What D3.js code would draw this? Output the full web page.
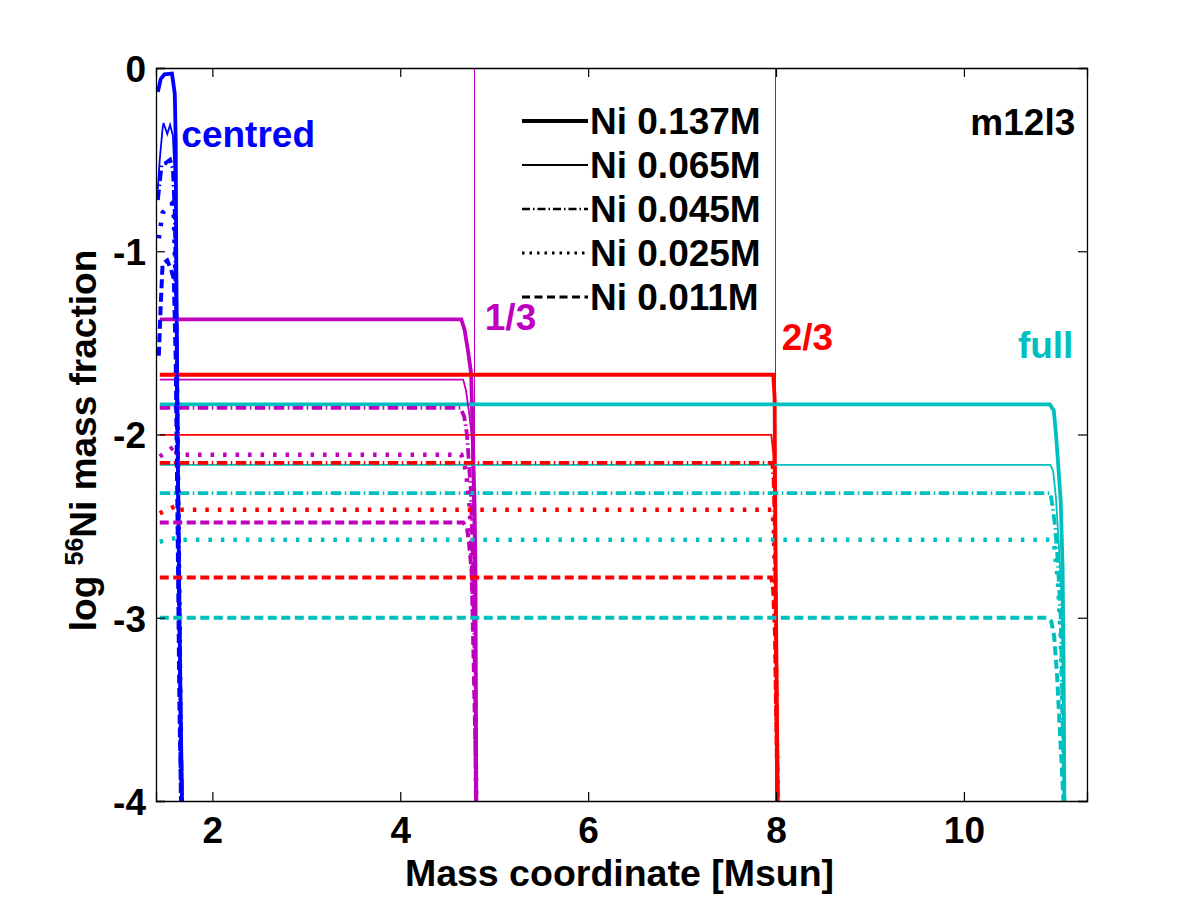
<!DOCTYPE html>
<html>
<head>
<meta charset="utf-8">
<script src="https://cdn.jsdelivr.net/npm/d3@7"></script>
<style>
  body { margin: 0; background: #fff; }
  text { font-family: "Liberation Sans", Arial, Helvetica, sans-serif; font-weight: bold; }
</style>
</head>
<body>
<div id="chart"></div>
<script>
// Chart values
const positions = ["centred", "1/3", "2/3", "full"];
const niMasses = ["Ni 0.137M", "Ni 0.065M", "Ni 0.045M", "Ni 0.025M", "Ni 0.011M"];
const xTicks = [2, 4, 6, 8, 10];
const yTicks = [0, -1, -2, -3, -4];
const boundaryX = [4.78, 7.99];

// [mass coordinate, log X(56Ni)] per Ni mass: 0.137, 0.065, 0.045, 0.025, 0.011
const centredCurves = [
  [[1.42,-0.13],[1.45,-0.06],[1.49,-0.035],[1.57,-0.03],[1.60,-0.14],[1.61,-0.4],[1.615,-1.0],[1.63,-2.0],[1.65,-3.0],[1.665,-3.6],[1.68,-4.1]],
  [[1.42,-0.66],[1.44,-0.5],[1.47,-0.33],[1.48,-0.30],[1.52,-0.36],[1.55,-0.31],[1.58,-0.37],[1.60,-0.6],[1.62,-1.5],[1.64,-2.5],[1.66,-3.5],[1.68,-4.1]],
  [[1.42,-0.72],[1.46,-0.53],[1.50,-0.52],[1.55,-0.50],[1.58,-0.55],[1.60,-0.8],[1.62,-1.5],[1.64,-2.5],[1.66,-3.5],[1.68,-4.1]],
  [[1.43,-0.93],[1.47,-0.79],[1.53,-0.76],[1.57,-0.74],[1.59,-0.81],[1.61,-1.2],[1.63,-2.0],[1.65,-3.0],[1.67,-4.1]],
  [[1.43,-1.57],[1.45,-1.3],[1.47,-1.07],[1.52,-1.05],[1.56,-1.1],[1.59,-1.15],[1.61,-1.6],[1.63,-2.5],[1.65,-3.5],[1.67,-4.1]]
];
const thirdCurves = [
  [[1.44,-1.372],[4.65,-1.372],[4.685,-1.43],[4.72,-1.54],[4.755,-1.67],[4.77,-1.99],[4.79,-2.36],[4.80,-2.7],[4.81,-4.1]],
  [[1.44,-1.70],[4.67,-1.70],[4.70,-1.76],[4.73,-1.87],[4.76,-2.0],[4.78,-2.5],[4.80,-3.3],[4.81,-4.1]],
  [[1.44,-1.855],[4.64,-1.855],[4.68,-1.9],[4.71,-2.0],[4.75,-2.3],[4.78,-2.8],[4.80,-3.5],[4.81,-4.1]],
  [[1.44,-2.12],[1.61,-2.06],[1.62,-2.11],[4.65,-2.11],[4.70,-2.2],[4.74,-2.4],[4.77,-2.8],[4.80,-3.5],[4.81,-4.1]],
  [[1.44,-2.48],[4.67,-2.48],[4.71,-2.51],[4.73,-2.58],[4.76,-2.75],[4.78,-3.2],[4.80,-3.7],[4.81,-4.1]]
];
const twoThirdCurves = [
  [[1.44,-1.674],[7.97,-1.674],[7.985,-1.8],[7.99,-2.3],[8.00,-3.0],[8.02,-4.1]],
  [[1.44,-2.002],[7.95,-2.002],[7.97,-2.1],[7.99,-2.5],[8.00,-3.1],[8.02,-4.1]],
  [[1.44,-2.155],[7.96,-2.155],[7.975,-2.25],[7.99,-2.6],[8.00,-3.2],[8.02,-4.1]],
  [[1.44,-2.43],[1.61,-2.39],[1.62,-2.41],[7.96,-2.41],[7.975,-2.5],[7.99,-2.8],[8.00,-3.3],[8.02,-4.1]],
  [[1.44,-2.78],[7.95,-2.78],[7.97,-2.85],[7.99,-3.1],[8.00,-3.5],[8.02,-4.1]]
];
const fullCurves = [
  [[1.44,-1.836],[10.915,-1.836],[10.957,-1.87],[10.98,-2.0],[11.0,-2.14],[11.03,-2.36],[11.05,-2.72],[11.06,-3.2],[11.07,-4.1]],
  [[1.44,-2.166],[10.92,-2.166],[10.95,-2.2],[10.98,-2.35],[11.01,-2.6],[11.04,-2.9],[11.06,-3.5],[11.07,-4.1]],
  [[1.44,-2.32],[10.92,-2.32],[10.94,-2.38],[10.97,-2.5],[11.0,-2.7],[11.03,-3.0],[11.05,-3.5],[11.07,-4.1]],
  [[1.44,-2.585],[1.61,-2.565],[1.62,-2.574],[10.93,-2.574],[10.96,-2.6],[11.0,-2.8],[11.03,-3.1],[11.05,-3.5],[11.07,-4.1]],
  [[1.44,-3.0],[10.88,-3.0],[10.93,-3.02],[10.96,-3.1],[10.99,-3.3],[11.02,-3.6],[11.05,-3.9],[11.07,-4.1]]
];

(() => {
  const margin = { top: 68, right: 113, bottom: 99, left: 156 };
  const width = 1200 - margin.left - margin.right;
  const height = 900 - margin.top - margin.bottom;

  const colors = ["#0000ff", "#bf00bf", "#ff0000", "#00bfbf"];
  const curvesByPos = [centredCurves, thirdCurves, twoThirdCurves, fullCurves];
  // line style per Ni mass: thick, thin, dash-dot, dotted, dashed
  const styles = [
    { w: 3.8, dash: null },
    { w: 1.8, dash: null },
    { w: 3.8, dash: "10.5,3.5,1.5,3.5" },
    { w: 4.5, dash: "3.5,9" },
    { w: 4, dash: "9,4.5" }
  ];
  const legendStyles = [
    { w: 4, dash: null },
    { w: 1.8, dash: null },
    { w: 2.6, dash: "8,3,1.5,3" },
    { w: 3, dash: "2.5,5" },
    { w: 3, dash: "8,4.5" }
  ];

  const svg = d3.select("#chart").append("svg")
    .attr("width", 1200).attr("height", 900)
    .append("g")
    .attr("transform", `translate(${margin.left},${margin.top})`);

  const x = d3.scaleLinear().domain([1.4, 11.31]).range([0, width]);
  const y = d3.scaleLinear().domain([-4, 0]).range([height, 0]);

  svg.append("clipPath").attr("id", "plot-clip")
    .append("rect").attr("width", width).attr("height", height);

  const plot = svg.append("g").attr("clip-path", "url(#plot-clip)");

  // boundary markers of the 1/3 and 2/3 models
  plot.selectAll(".boundary")
    .data(boundaryX)
    .join("line")
    .attr("class", "boundary")
    .attr("x1", d => Math.round(x(d)) + 0.5).attr("x2", d => Math.round(x(d)) + 0.5)
    .attr("y1", y(0)).attr("y2", y(-4))
    .attr("stroke", (d, i) => colors[i + 1])
    .attr("stroke-width", 1)
    .attr("shape-rendering", "crispEdges");

  const line = d3.line().x(d => x(d[0])).y(d => y(d[1]));

  // drawn Ni mass by Ni mass, each one for all four positions
  niMasses.forEach((m, i) => {
    curvesByPos.forEach((curves, p) => {
      plot.append("path")
        .datum(curves[i])
        .attr("d", line)
        .attr("fill", "none")
        .attr("stroke", colors[p])
        .attr("stroke-width", styles[i].w)
        .attr("stroke-dasharray", styles[i].dash)
        .attr("stroke-linejoin", "miter");
    });
  });

  // axes with inward ticks, mirrored on top and right
  const tickLen = 9;
  svg.append("g").attr("transform", `translate(0,${height})`)
    .call(d3.axisBottom(x).tickValues(xTicks).tickSize(-tickLen).tickPadding(16));
  svg.append("g")
    .call(d3.axisTop(x).tickValues(xTicks).tickSize(-tickLen).tickFormat(""));
  const yAxis = svg.append("g")
    .call(d3.axisLeft(y).tickValues(yTicks).tickSize(-tickLen).tickPadding(10));
  svg.append("g").attr("transform", `translate(${width},0)`)
    .call(d3.axisRight(y).tickValues(yTicks).tickSize(-tickLen).tickFormat(""));

  svg.selectAll(".domain").attr("stroke", "#000").attr("stroke-width", 1.3);
  svg.selectAll(".tick line").attr("stroke", "#000").attr("stroke-width", 1.2);
  svg.selectAll(".tick text")
    .attr("fill", "#000")
    .style("font-size", "37px")
    .style("font-family", "'Liberation Sans', Arial, sans-serif")
    .style("font-weight", "bold");
  yAxis.selectAll(".tick text").attr("dy", "0.36em").text(d => d === 0 ? "0" : "-" + Math.abs(d));

  // axis labels
  svg.append("text")
    .attr("x", width / 2 - 2)
    .attr("y", height + 85)
    .attr("text-anchor", "middle")
    .style("font-size", "37.5px")
    .text("Mass coordinate [Msun]");

  const yLabel = svg.append("text")
    .attr("transform", `translate(-60,${height / 2 + 6}) rotate(-90)`)
    .attr("text-anchor", "middle")
    .style("font-size", "37px");
  yLabel.append("tspan").text("log ");
  yLabel.append("tspan").attr("dy", -13).style("font-size", "25px").text("56");
  yLabel.append("tspan").attr("dy", 13).text("Ni mass fraction");

  // position labels
  const labelSpots = [
    { x: 1.67, y: -0.43, anchor: "start" },
    { x: 4.90, y: -1.43, anchor: "start" },
    { x: 8.06, y: -1.54, anchor: "start" },
    { x: 11.165, y: -1.585, anchor: "end" }
  ];
  positions.forEach((name, p) => {
    svg.append("text")
      .attr("x", x(labelSpots[p].x))
      .attr("y", y(labelSpots[p].y))
      .attr("text-anchor", labelSpots[p].anchor)
      .attr("fill", colors[p])
      .style("font-size", "37px")
      .text(name);
  });

  svg.append("text")
    .attr("x", x(11.185))
    .attr("y", y(-0.365))
    .attr("text-anchor", "end")
    .style("font-size", "37px")
    .text("m12l3");

  // legend, no box
  const legend = svg.append("g").attr("transform", `translate(${522 - margin.left},${121 - margin.top})`);
  niMasses.forEach((m, i) => {
    const row = legend.append("g").attr("transform", `translate(0,${i * 44})`);
    row.append("line")
      .attr("x1", 0).attr("x2", 66)
      .attr("stroke", "#000")
      .attr("stroke-width", legendStyles[i].w)
      .attr("stroke-dasharray", legendStyles[i].dash);
    row.append("text")
      .attr("x", 68)
      .attr("y", 13)
      .style("font-size", "37px")
      .text(m);
  });
})();
</script>
</body>
</html>
